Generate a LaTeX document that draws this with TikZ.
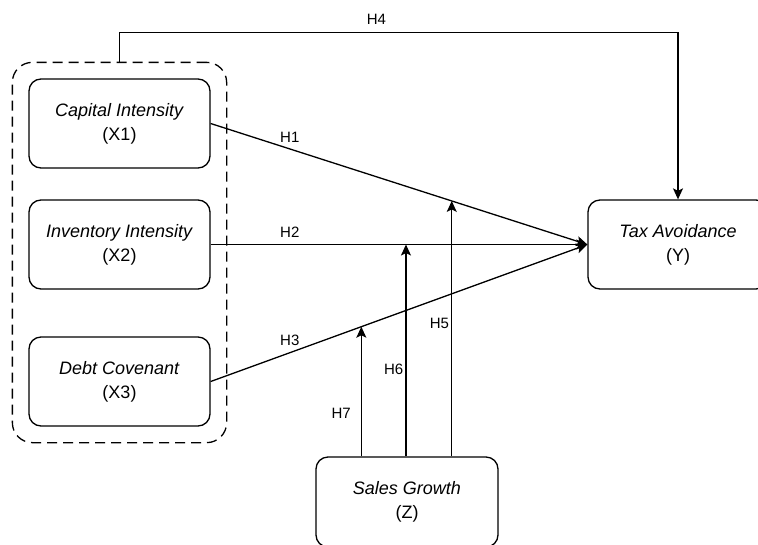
\documentclass[tikz,border=0pt]{standalone}
\usepackage{fontspec}
\setmainfont{Liberation Sans}
\usepackage{tikz}
\usetikzlibrary{positioning, fit, arrows.meta}
\tikzset{>={Stealth[length=11pt, width=10pt, inset=2.5pt]},
var/.style={draw, rounded corners=12pt, minimum width=181pt, minimum height=89pt, align=center, font=\fontsize{18}{24}\selectfont},
grpbox/.style={draw, dash pattern=on 10pt off 6pt, rounded corners=20pt, inner sep=16pt},
hyp/.style={font=\fontsize{15}{18}\selectfont, inner sep=2pt},
}

\begin{document}
\begin{tikzpicture}[x=1pt, y=-1pt, line width=1.3pt]
            \clip (0,0) rectangle (758,544);
            \node[var] (x1) at (119.5,123.5) {\textit{Capital Intensity}\\(X1)};
            \node[var] (x2) at (119.5,244.5) {\textit{Inventory Intensity}\\(X2)};
            \node[var] (x3) at (119.5,381.5) {\textit{Debt Covenant}\\(X3)};
            \node[var, minimum width=180pt] (y) at (678,244.5) {\textit{Tax Avoidance}\\(Y)};
            \node[var, minimum width=182pt, minimum height=90pt] (z) at (407,502) {\textit{Sales Growth}\\(Z)};
            \node[grpbox, fit=(x1)(x3)] (grp) {};

            \path (x1.east) -- (y.west) coordinate[pos=0.64] (m1);
            \path (x2.east) -- (y.west) coordinate[pos=0.5185] (m2);
            \path (x3.east) -- (y.west) coordinate[pos=0.4] (m3);

            \draw[->] (x1.east) -- node[hyp, pos=0.21, above=4pt] {H1} (y.west);
            \draw[->] (x2.east) -- node[hyp, pos=0.21, above=4pt] {H2} (y.west);
            \draw[->] (x3.east) -- node[hyp, pos=0.21, above=4pt] {H3} (y.west);
            \draw[->] (grp.north) -- ++(0,-29) -| node[hyp, pos=0.23, above=6pt] {H4} (y.north);
            \draw[->] (z.north -| m1) -- node[hyp, pos=0.52, left] {H5} (m1);
            \draw[->] (z.north -| m2) -- node[hyp, pos=0.41, left] {H6} (m2);
            \draw[->] (z.north -| m3) -- node[hyp, pos=0.33, left=8pt] {H7} (m3);
        \end{tikzpicture}
\end{document}
